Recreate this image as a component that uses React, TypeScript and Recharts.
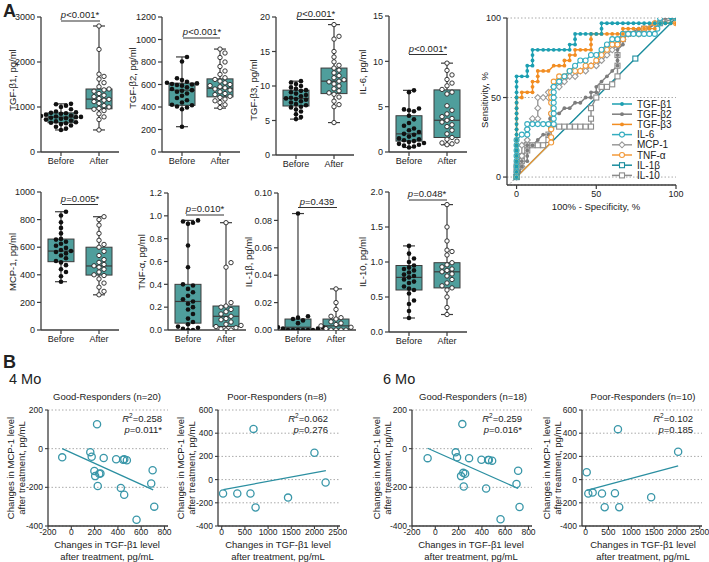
import React from 'react';
import { ComposedChart, XAxis, YAxis, Bar, Scatter, Line, ReferenceLine, CartesianGrid } from 'recharts';

const FONT = "'Liberation Sans', Arial, Helvetica, sans-serif";
const INK = '#222';
const AXIS = '#3c3c3c';
const BOX_FILL = '#4f9e9c';
const SC_COL = '#3a97a9';

// ---------------- Panel A: box plot values ----------------
const GROUP_LABELS = ['Before', 'After'];

const TGFB1_BEFORE = [490, 520, 560, 590, 620, 640, 650, 660, 680, 700, 720, 740, 750, 760, 775, 780, 790, 800, 810, 830, 850, 860, 870, 880, 900, 950, 1000, 1030, 1060, 1070];
const TGFB1_AFTER = [490, 720, 780, 850, 920, 950, 970, 1000, 1030, 1080, 1120, 1150, 1170, 1190, 1230, 1260, 1300, 1350, 1380, 1400, 1450, 1540, 1620, 1680, 1730, 2280, 2800];
const TGFB1_STATS_B = [490, 650, 775, 870, 1070];
const TGFB1_STATS_A = [490, 960, 1175, 1400, 2800];

const TGFB2_BEFORE = [225, 380, 395, 405, 415, 420, 440, 460, 480, 500, 520, 535, 545, 550, 560, 575, 590, 595, 600, 605, 610, 615, 625, 640, 655, 805, 845];
const TGFB2_AFTER = [395, 420, 440, 455, 470, 485, 495, 510, 520, 535, 550, 560, 570, 580, 590, 600, 615, 630, 645, 660, 690, 720, 760, 800, 840, 880, 915];
const TGFB2_STATS_B = [225, 415, 550, 612, 845];
const TGFB2_STATS_A = [390, 490, 567, 650, 915];

const TGFB3_BEFORE = [5.2, 5.5, 5.9, 6.3, 6.6, 6.9, 7.0, 7.2, 7.4, 7.6, 7.8, 8.0, 8.1, 8.2, 8.3, 8.5, 8.7, 8.9, 9.1, 9.3, 9.4, 9.6, 9.8, 10.0, 10.3, 10.5, 10.7];
const TGFB3_AFTER = [4.7, 7.0, 7.3, 7.8, 8.4, 8.8, 9.0, 9.3, 9.6, 10.0, 10.3, 10.6, 10.7, 10.9, 11.2, 11.5, 11.9, 12.3, 12.6, 13.0, 13.5, 14.2, 15.0, 16.8, 17.2, 18.9];
const TGFB3_STATS_B = [5.2, 7.1, 8.2, 9.4, 10.7];
const TGFB3_STATS_A = [4.7, 8.9, 10.7, 12.6, 18.9];

const IL6_BEFORE = [0.5, 0.6, 0.7, 0.8, 0.9, 1.0, 1.1, 1.2, 1.3, 1.4, 1.5, 1.7, 1.9, 2.0, 2.2, 2.4, 2.6, 2.9, 3.2, 3.6, 4.0, 4.5, 4.6, 4.7, 4.8, 6.6, 6.8];
const IL6_AFTER = [0.8, 0.9, 1.0, 1.2, 1.4, 1.6, 2.0, 2.4, 2.8, 3.0, 3.3, 3.5, 3.7, 3.9, 4.2, 4.6, 5.1, 6.4, 6.6, 6.9, 7.3, 7.6, 8.0, 8.5, 9.0, 9.8];
const IL6_STATS_B = [0.5, 1.2, 2.0, 4.0, 6.8];
const IL6_STATS_A = [0.8, 1.6, 3.5, 6.85, 9.8];

const MCP1_BEFORE = [350, 390, 420, 440, 470, 490, 500, 520, 540, 555, 565, 572, 580, 595, 610, 625, 640, 655, 660, 700, 740, 780, 830, 857];
const MCP1_AFTER = [255, 280, 310, 340, 370, 395, 400, 420, 440, 455, 465, 475, 490, 510, 540, 570, 600, 620, 650, 700, 760, 800, 821];
const MCP1_STATS_B = [350, 495, 572, 659, 857];
const MCP1_STATS_A = [255, 398, 464, 600, 821];

const TNFA_BEFORE = [0, 0, 0.01, 0.02, 0.03, 0.05, 0.07, 0.1, 0.14, 0.18, 0.2, 0.23, 0.25, 0.27, 0.3, 0.33, 0.36, 0.39, 0.4, 0.55, 0.74, 0.93, 0.94, 0.95, 0.96];
const TNFA_AFTER = [0, 0, 0.01, 0.02, 0.03, 0.04, 0.05, 0.07, 0.09, 0.1, 0.12, 0.14, 0.16, 0.18, 0.2, 0.21, 0.24, 0.55, 0.59, 0.94];
const TNFA_STATS_B = [0, 0.06, 0.25, 0.4, 0.96];
const TNFA_STATS_A = [0, 0.03, 0.12, 0.21, 0.94];

const IL1B_BEFORE = [0, 0, 0, 0, 0, 0, 0.001, 0.001, 0.002, 0.002, 0.003, 0.005, 0.007, 0.008, 0.009, 0.01, 0.085];
const IL1B_AFTER = [0, 0, 0, 0, 0.001, 0.002, 0.003, 0.004, 0.005, 0.006, 0.008, 0.009, 0.01, 0.015, 0.02, 0.03];
const IL1B_STATS_B = [0, 0.0005, 0.002, 0.008, 0.085];
const IL1B_STATS_A = [0, 0.0005, 0.003, 0.008, 0.03];

const IL10_BEFORE = [0.2, 0.3, 0.4, 0.45, 0.55, 0.6, 0.62, 0.65, 0.7, 0.72, 0.75, 0.78, 0.8, 0.82, 0.85, 0.88, 0.9, 0.92, 0.95, 1.0, 1.05, 1.12, 1.23];
const IL10_AFTER = [0.25, 0.35, 0.5, 0.6, 0.63, 0.66, 0.7, 0.75, 0.8, 0.83, 0.86, 0.88, 0.9, 0.93, 0.96, 0.99, 1.1, 1.15, 1.17, 1.3, 1.5, 1.82];
const IL10_STATS_B = [0.2, 0.6, 0.78, 0.95, 1.23];
const IL10_STATS_A = [0.25, 0.63, 0.86, 0.99, 1.82];

// ---------------- Panel A: ROC curves ----------------
type P = [number, number];
const ROC_TGFB1: P[] = [[0,0],[0,3.3],[0,6.7],[0,10],[0,13.3],[0,16.7],[0,20],[0,23.3],[0,26.7],[0,30],[0,33.3],[0,36.7],[0,40],[0,43.3],[0,46.7],[0,50],[0,53.3],[0,56.7],[0,60],[0,63.3],[3.3,63.3],[6.7,63.3],[6.7,66.7],[6.7,70],[10,70],[10,73.3],[10,76.7],[10,80],[13.3,80],[16.7,80],[20,80],[23.3,80],[26.7,80],[30,80],[33.3,80],[33.3,83.3],[36.7,83.3],[36.7,86.7],[36.7,90],[40,90],[43.3,90],[46.7,90],[50,90],[53.3,90],[53.3,93.3],[53.3,96.7],[56.7,96.7],[60,96.7],[63.3,96.7],[66.7,96.7],[70,96.7],[73.3,96.7],[76.7,96.7],[80,96.7],[83.3,96.7],[86.7,96.7],[90,96.7],[93.3,96.7],[96.7,96.7],[96.7,100],[100,100]];
const ROC_TGFB2: P[] = [[0,0],[1.7,3.3],[3.3,6.7],[3.3,10],[6.7,10],[6.7,13.3],[6.7,16.7],[6.7,20],[10,20],[13.3,23.3],[16.7,26.7],[20,26.7],[21,30],[21,33.3],[21,36.7],[21,40],[26.7,40],[30,43.3],[33.3,43.3],[36.7,46.7],[40,46.7],[43.3,50],[46.7,50],[46.7,53.3],[50,53.3],[50,56.7],[53.3,60],[56.7,63.3],[60,66.7],[63.3,70],[63.3,73.3],[63.3,76.7],[63.3,80],[66.7,83.3],[66.7,86.7],[66.7,90],[70,90],[76.7,93.3],[83.3,93.3],[86.7,96.7],[93.3,100],[100,100]];
const ROC_TGFB3: P[] = [[0,0],[0,3.3],[0,6.7],[0,10],[0,13.3],[0,16.7],[0,20],[0,23.3],[0,26.7],[0,30],[0,33.3],[0,36.7],[0,40],[0,43.3],[0,46.7],[0,50],[3.3,50],[3.3,53.3],[6.7,53.3],[10,53.3],[10,56.7],[10,60],[13.3,60],[13.3,63.3],[13.3,66.7],[16.7,66.7],[20,66.7],[23.3,70],[26.7,70],[30,70],[30,73.3],[33.3,73.3],[33.3,76.7],[36.7,76.7],[36.7,80],[40,80],[43.3,80],[46.7,80],[46.7,83.3],[46.7,86.7],[46.7,90],[50,90],[53.3,90],[56.7,90],[60,90],[63.3,90],[66.7,90],[66.7,93.3],[70,93.3],[73.3,93.3],[76.7,93.3],[80,93.3],[83.3,93.3],[86.7,93.3],[86.7,96.7],[90,96.7],[93.3,96.7],[96.7,96.7],[100,96.7],[100,100]];
const ROC_IL6: P[] = [[0,0],[0,3.3],[0,6.7],[0,10],[0,13.3],[0,16.7],[0,20],[0,23.3],[3.3,26.7],[6.7,26.7],[6.7,30],[6.7,33.3],[10,33.3],[13.3,33.3],[16.7,33.3],[20,33.3],[23.3,33.3],[23.3,36.7],[23.3,40],[23.3,43.3],[23.3,46.7],[23.3,50],[23.3,53.3],[23.3,56.7],[26.7,60],[30,63.3],[33.3,66.7],[36.7,70],[40,73.3],[43.3,73.3],[46.7,76.7],[50,76.7],[53.3,80],[56.7,83.3],[60,86.7],[63.3,86.7],[66.7,90],[70,90],[73.3,90],[76.7,90],[80,90],[83.3,90],[86.7,90],[88.3,93.3],[90,96.7],[90,100],[100,100]];
const ROC_MCP1: P[] = [[0,0],[3.3,6.7],[3.3,13.3],[3.3,20],[6.7,23.3],[6.7,30],[10,36.7],[13.3,36.7],[13.3,43.3],[13.3,50],[16.7,50],[20,50],[20,53.3],[23.3,56.7],[26.7,56.7],[30,60],[33.3,63.3],[36.7,63.3],[40,66.7],[43.3,66.7],[46.7,70],[50,70],[53.3,73.3],[56.7,76.7],[60,80],[63.3,83.3],[66.7,86.7],[66.7,90],[70,90],[76.7,90],[80,93.3],[86.7,96.7],[93.3,100],[100,100]];
const ROC_TNFA: P[] = [[0,0],[21.7,21.7],[21.7,25],[21.7,30],[21.7,33.3],[21.7,40],[21.7,46.7],[21.7,50],[21.7,53.3],[23.3,60],[26.7,63.3],[30,63.3],[33.3,66.7],[36.7,66.7],[40,66.7],[43.3,70],[46.7,70],[50,73.3],[53.3,76.7],[56.7,80],[60,83.3],[63.3,83.3],[66.7,86.7],[70,90],[76.7,90],[80,93.3],[86.7,96.7],[100,96.7],[100,100]];
const ROC_IL1B: P[] = [[0,0],[74.5,74.5],[100,100]];
const ROC_IL10: P[] = [[0,0],[0,3.3],[0,6.7],[3.3,10],[3.3,13.3],[6.7,16.7],[6.7,20],[10,20],[13.3,20],[16.7,20],[20,23.3],[20,26.7],[21.7,31.7],[26.7,31.7],[30,31.7],[33.3,31.7],[36.7,31.7],[40,31.7],[43.3,31.7],[46.7,31.7],[46.7,36.7],[46.7,43.3],[50,50],[53.3,56.7],[56.7,56.7],[60,58.3],[63.3,63.3],[63.3,70],[63.3,76.7],[63.3,83.3],[66.7,86.7],[70,90],[80,93.3],[90,96.7],[100,100]];

// ---------------- Panel B: scatter values ----------------
const GOOD4_X = [-78, 221, 163, 175, 278, 198, 205, 250, 227, 385, 445, 477, 425, 454, 698, 686, 712, 560, 240, 455];
const GOOD4_Y = [-45, 126, -18, -42, -48, -115, -142, -128, -193, -55, -57, -60, -203, -238, -112, -180, -300, -368, -130, -55];
const POOR4_X = [29, 336, 620, 686, 730, 1430, 1999, 2240];
const POOR4_Y = [-120, -120, -120, 437, -240, -155, 232, -25];
const GOOD6_X = [-66, 232, 175, 187, 290, 221, 256, 244, 396, 453, 488, 436, 711, 697, 723, 560, 240, 460];
const GOOD6_Y = [-49, 127, -19, -45, -49, -142, -130, -196, -57, -59, -62, -206, -114, -183, -302, -365, -125, -58];
const POOR6_X = [23, 58, 154, 358, 642, 708, 417, 736, 1436, 2027];
const POOR6_Y = [63, -120, -112, -120, -117, 435, -238, -238, -152, 240];
const REG_GOOD4: P[] = [[-78, 0], [703, -213]];
const REG_POOR4: P[] = [[36, -86], [2246, 77]];
const REG_GOOD6: P[] = [[-66, 2], [711, -206]];
const REG_POOR6: P[] = [[23, -92], [2027, 118]];

// ---------------- helpers ----------------
const tickStyle = { fontSize: 9, fill: INK, fontFamily: FONT };

function swarm(vals: number[], k: number, g: number, d = 5) {
  const sorted = [...vals].sort((a, b) => a - b);
  const placed: { x: number; y: number }[] = [];
  return sorted.map((v) => {
    const y = v * k;
    let dx = 0;
    for (let i = 0; i < 30; i++) {
      const cand = i === 0 ? 0 : (i % 2 ? 1 : -1) * Math.ceil(i / 2) * d;
      if (placed.every((p) => (p.x - cand) ** 2 + (p.y - y) ** 2 >= d * d * 0.85)) {
        dx = cand;
        break;
      }
    }
    placed.push({ x: dx, y });
    return { g, v, dx };
  });
}

function BoxShape(props: any) {
  const { x, y, width, height, payload } = props;
  const [mn, q1, med, q3, mx] = payload.s as number[];
  const k = height / (q3 - q1);
  const Y = (v: number) => y + height - (v - q1) * k;
  const cx = x + width / 2;
  const cap = 6;
  return (
    <g>
      <line x1={cx} x2={cx} y1={Y(mx)} y2={Y(q3)} stroke={AXIS} strokeWidth={1.2} />
      <line x1={cx} x2={cx} y1={Y(q1)} y2={Y(mn)} stroke={AXIS} strokeWidth={1.2} />
      <line x1={cx - cap} x2={cx + cap} y1={Y(mx)} y2={Y(mx)} stroke={AXIS} strokeWidth={1.2} />
      <line x1={cx - cap} x2={cx + cap} y1={Y(mn)} y2={Y(mn)} stroke={AXIS} strokeWidth={1.2} />
      <rect x={x} y={y} width={width} height={Math.max(height, 0.5)} fill={BOX_FILL} stroke={AXIS} strokeWidth={1} />
      <line x1={x} x2={x + width} y1={Y(med)} y2={Y(med)} stroke={AXIS} strokeWidth={1.2} />
    </g>
  );
}

const dotBefore = (p: any) => <circle cx={p.cx + p.payload.dx} cy={p.cy} r={2.3} fill="#111" />;
const dotAfter = (p: any) => <circle cx={p.cx + p.payload.dx} cy={p.cy} r={2.2} fill="#fff" stroke="#222" strokeWidth={0.9} />;

type BoxCfg = {
  x0: number; yTop: number; yBottom: number; max: number; ticks: number[]; fmt: (v: number) => string;
  before: number[]; after: number[]; sb: number[]; sa: number[];
};

function BoxPanel({ x0, yTop, yBottom, max, ticks, fmt, before, after, sb, sa }: BoxCfg) {
  const yw = 36, mt = 6, xh = 20, mr = 6, plotW = 78;
  const plotH = yBottom - yTop;
  const k = plotH / max;
  const data = [
    { g: 1, box: [sb[1], sb[3]], s: sb },
    { g: 2, box: [sa[1], sa[3]], s: sa },
  ];
  const ptsB = swarm(before, k, 1);
  const ptsA = swarm(after, k, 2);
  return (
    <div style={{ position: 'absolute', left: x0 - yw, top: yTop - mt }}>
      <ComposedChart width={yw + plotW + mr} height={mt + plotH + xh} data={data} margin={{ top: mt, right: mr, left: 0, bottom: 0 }}>
        <XAxis type="number" dataKey="g" domain={[0.474, 2.526]} ticks={[1, 2]} interval={0} allowDataOverflow
          tickFormatter={(v: number) => GROUP_LABELS[v - 1]} height={xh} tick={tickStyle}
          axisLine={{ stroke: AXIS, strokeWidth: 1.3 }} tickLine={{ stroke: AXIS, strokeWidth: 1.2 }} tickSize={4} />
        <YAxis type="number" dataKey="v" domain={[0, max]} ticks={ticks} interval={0} allowDataOverflow
          tickFormatter={fmt} width={yw} tick={tickStyle}
          axisLine={{ stroke: AXIS, strokeWidth: 1.3 }} tickLine={{ stroke: AXIS, strokeWidth: 1.2 }} tickSize={4} />
        <Bar dataKey="box" barSize={26} shape={BoxShape} isAnimationActive={false} />
        <Scatter data={ptsB} dataKey="v" shape={dotBefore} isAnimationActive={false} />
        <Scatter data={ptsA} dataKey="v" shape={dotAfter} isAnimationActive={false} />
      </ComposedChart>
    </div>
  );
}

const fmt0 = (v: number) => String(v);
const fmt1 = (v: number) => v.toFixed(1);
const fmt2 = (v: number) => v.toFixed(2);

const BOXES: BoxCfg[] = [
  { x0: 41, yTop: 17, yBottom: 152, max: 3000, ticks: [0, 1000, 2000, 3000], fmt: fmt0, before: TGFB1_BEFORE, after: TGFB1_AFTER, sb: TGFB1_STATS_B, sa: TGFB1_STATS_A },
  { x0: 162, yTop: 17, yBottom: 152, max: 1200, ticks: [0, 200, 400, 600, 800, 1000, 1200], fmt: fmt0, before: TGFB2_BEFORE, after: TGFB2_AFTER, sb: TGFB2_STATS_B, sa: TGFB2_STATS_A },
  { x0: 276, yTop: 17, yBottom: 155, max: 20, ticks: [0, 5, 10, 15, 20], fmt: fmt0, before: TGFB3_BEFORE, after: TGFB3_AFTER, sb: TGFB3_STATS_B, sa: TGFB3_STATS_A },
  { x0: 389, yTop: 16, yBottom: 152, max: 15, ticks: [0, 5, 10, 15], fmt: fmt0, before: IL6_BEFORE, after: IL6_AFTER, sb: IL6_STATS_B, sa: IL6_STATS_A },
  { x0: 41, yTop: 192, yBottom: 330, max: 1000, ticks: [0, 200, 400, 600, 800, 1000], fmt: fmt0, before: MCP1_BEFORE, after: MCP1_AFTER, sb: MCP1_STATS_B, sa: MCP1_STATS_A },
  { x0: 168, yTop: 193, yBottom: 330, max: 1.2, ticks: [0, 0.2, 0.4, 0.6, 0.8, 1.0, 1.2], fmt: fmt1, before: TNFA_BEFORE, after: TNFA_AFTER, sb: TNFA_STATS_B, sa: TNFA_STATS_A },
  { x0: 278, yTop: 193, yBottom: 330, max: 0.1, ticks: [0, 0.02, 0.04, 0.06, 0.08, 0.1], fmt: fmt2, before: IL1B_BEFORE, after: IL1B_AFTER, sb: IL1B_STATS_B, sa: IL1B_STATS_A },
  { x0: 389, yTop: 192, yBottom: 332, max: 2, ticks: [0, 0.5, 1.0, 1.5, 2.0], fmt: fmt1, before: IL10_BEFORE, after: IL10_AFTER, sb: IL10_STATS_B, sa: IL10_STATS_A },
];

// ---------------- ROC ----------------
type Kind = 'fill' | 'circle' | 'diamond' | 'square';
const ROC_SERIES: { name: string; pts: P[]; color: string; kind: Kind }[] = [
  { name: 'IL-10', pts: ROC_IL10, color: '#8c8c8c', kind: 'square' },
  { name: 'MCP-1', pts: ROC_MCP1, color: '#9a9a9a', kind: 'diamond' },
  { name: 'TGF-β2', pts: ROC_TGFB2, color: '#7d7d7d', kind: 'fill' },
  { name: 'IL-1β', pts: ROC_IL1B, color: '#1b8d9e', kind: 'square' },
  { name: 'TNF-α', pts: ROC_TNFA, color: '#f39a3a', kind: 'circle' },
  { name: 'IL-6', pts: ROC_IL6, color: '#35adc0', kind: 'circle' },
  { name: 'TGF-β3', pts: ROC_TGFB3, color: '#f28d22', kind: 'fill' },
  { name: 'TGF-β1', pts: ROC_TGFB1, color: '#1c9fb1', kind: 'fill' },
];
const LEGEND_ORDER = ['TGF-β1', 'TGF-β2', 'TGF-β3', 'IL-6', 'MCP-1', 'TNF-α', 'IL-1β', 'IL-10'];

function Marker({ cx, cy, color, kind }: { cx: number; cy: number; color: string; kind: Kind }) {
  if (kind === 'fill') return <circle cx={cx} cy={cy} r={1.9} fill={color} />;
  if (kind === 'circle') return <circle cx={cx} cy={cy} r={2.5} fill="#fff" stroke={color} strokeWidth={1.1} />;
  if (kind === 'diamond') return <path d={`M${cx},${cy - 3}L${cx + 3},${cy}L${cx},${cy + 3}L${cx - 3},${cy}Z`} fill="#fff" stroke={color} strokeWidth={1.1} />;
  return <rect x={cx - 2.5} y={cy - 2.5} width={5} height={5} fill="#fff" stroke={color} strokeWidth={1.1} />;
}

function RocPanel() {
  const x0 = 507, yTop = 18, yBottom = 185, plotW = 169;
  const yw = 26, mt = 6, xh = 18, mr = 12;
  return (
    <div style={{ position: 'absolute', left: x0 - yw, top: yTop - mt }}>
      <ComposedChart width={yw + plotW + mr} height={mt + (yBottom - yTop) + xh} margin={{ top: mt, right: mr, left: 0, bottom: 0 }}>
        <CartesianGrid vertical={false} stroke="#aaa" strokeDasharray="1.5 2" />
        <XAxis type="number" dataKey="x" domain={[-6, 100]} ticks={[0, 50, 100]} interval={0} allowDataOverflow height={xh}
          tick={tickStyle} axisLine={{ stroke: AXIS, strokeWidth: 1.3 }} tickLine={{ stroke: AXIS, strokeWidth: 1.2 }} tickSize={4} />
        <YAxis type="number" dataKey="y" domain={[-5, 100]} ticks={[0, 50, 100]} interval={0} allowDataOverflow width={yw}
          tick={tickStyle} axisLine={{ stroke: AXIS, strokeWidth: 1.3 }} tickLine={{ stroke: AXIS, strokeWidth: 1.2 }} tickSize={4} />
        <ReferenceLine segment={[{ x: -4, y: -4 }, { x: 100, y: 100 }]} stroke="#888" strokeDasharray="1.5 2" ifOverflow="visible" />
        {ROC_SERIES.map((s) => (
          <Line key={s.name} data={s.pts.map(([x, y]) => ({ x, y }))} dataKey="y" type="linear" stroke={s.color} strokeWidth={1.4}
            isAnimationActive={false}
            dot={(p: any) => <Marker key={`${s.name}-${p.index}`} cx={p.cx} cy={p.cy} color={s.color} kind={s.kind} />} />
        ))}
      </ComposedChart>
    </div>
  );
}

// ---------------- Panel B scatter ----------------
type ScCfg = { x0: number; plotW: number; xDomain: [number, number]; xTicks: number[]; yDomain: [number, number]; yTicks: number[]; xs: number[]; ys: number[]; reg: P[] };

const SCATTERS: ScCfg[] = [
  { x0: 48, plotW: 120, xDomain: [-200, 830], xTicks: [-200, 0, 200, 400, 600, 800], yDomain: [-400, 200], yTicks: [-400, -200, 0, 200], xs: GOOD4_X, ys: GOOD4_Y, reg: REG_GOOD4 },
  { x0: 218, plotW: 122, xDomain: [-80, 2550], xTicks: [0, 500, 1000, 1500, 2000, 2500], yDomain: [-400, 600], yTicks: [-400, -200, 0, 200, 400, 600], xs: POOR4_X, ys: POOR4_Y, reg: REG_POOR4 },
  { x0: 412, plotW: 120, xDomain: [-200, 830], xTicks: [-200, 0, 200, 400, 600, 800], yDomain: [-400, 200], yTicks: [-400, -200, 0, 200], xs: GOOD6_X, ys: GOOD6_Y, reg: REG_GOOD6 },
  { x0: 582, plotW: 120, xDomain: [-80, 2550], xTicks: [0, 500, 1000, 1500, 2000, 2500], yDomain: [-400, 600], yTicks: [-400, -200, 0, 200, 400, 600], xs: POOR6_X, ys: POOR6_Y, reg: REG_POOR6 },
];

const scTick = { fontSize: 8.5, fill: INK, fontFamily: FONT };
const scDot = (p: any) => <circle cx={p.cx} cy={p.cy} r={3.6} fill="none" stroke={SC_COL} strokeWidth={1.3} />;

function ScatterPanel({ x0, plotW, xDomain, xTicks, yDomain, yTicks, xs, ys, reg }: ScCfg) {
  const yTop = 410, yBottom = 526;
  const yw = 30, mt = 5, xh = 14, mr = 7;
  const pts = xs.map((x, i) => ({ x, y: ys[i] }));
  return (
    <div style={{ position: 'absolute', left: x0 - yw, top: yTop - mt }}>
      <ComposedChart width={yw + plotW + mr} height={mt + (yBottom - yTop) + xh} margin={{ top: mt, right: mr, left: 0, bottom: 0 }}>
        <CartesianGrid vertical={false} stroke="#aaa" strokeDasharray="1.5 2" />
        <XAxis type="number" dataKey="x" domain={xDomain} ticks={xTicks} interval={0} allowDataOverflow height={xh}
          tick={scTick} tickMargin={0} axisLine={{ stroke: AXIS, strokeWidth: 1.3 }} tickLine={{ stroke: AXIS, strokeWidth: 1.1 }} tickSize={3} />
        <YAxis type="number" dataKey="y" domain={yDomain} ticks={yTicks} interval={0} allowDataOverflow width={yw}
          tick={scTick} axisLine={{ stroke: AXIS, strokeWidth: 1.3 }} tickLine={{ stroke: AXIS, strokeWidth: 1.1 }} tickSize={3} />
        <ReferenceLine segment={[{ x: reg[0][0], y: reg[0][1] }, { x: reg[1][0], y: reg[1][1] }]} stroke="#2b8fa1" strokeWidth={1.3} />
        <Scatter data={pts} dataKey="y" shape={scDot} isAnimationActive={false} />
      </ComposedChart>
    </div>
  );
}

// ---------------- overlay text ----------------
const P_NOTES = [
  { t: '<0.001*', x: 80, y: 18, a: 61, b: 100, ly: 21 },
  { t: '<0.001*', x: 202, y: 35, a: 183, b: 220, ly: 38 },
  { t: '<0.001*', x: 316, y: 17, a: 297, b: 334, ly: 19.5 },
  { t: '<0.001*', x: 428, y: 52, a: 409, b: 447, ly: 54.5 },
  { t: '=0.005*', x: 80, y: 202, a: 62, b: 98, ly: 204.5 },
  { t: '=0.010*', x: 205, y: 212, a: 186, b: 224, ly: 215 },
  { t: '=0.439', x: 317, y: 205, a: 298, b: 337, ly: 207.5 },
  { t: '=0.048*', x: 427, y: 197, a: 409, b: 447, ly: 200 },
];

const Y_TITLES = [
  { t: 'TGF-β1, pg/ml', x: 12, y: 80 },
  { t: 'TGF-β2, pg/ml', x: 132, y: 78 },
  { t: 'TGF-β3, pg/ml', x: 253, y: 90 },
  { t: 'IL-6, pg/ml', x: 362, y: 72 },
  { t: 'MCP-1, pg/ml', x: 12, y: 262 },
  { t: 'TNF-α, pg/ml', x: 141, y: 262 },
  { t: 'IL-1β, pg/ml', x: 248, y: 262 },
  { t: 'IL-10, pg/ml', x: 362, y: 262 },
];

const SC_TEXT = [
  { title: 'Good-Responders (n=20)', tx: 107, r2: '0.258', p: '=0.011*', rx: 162, l1: 10, xc: 107 },
  { title: 'Poor-Responders (n=8)', tx: 277, r2: '0.062', p: '=0.276', rx: 328, l1: 180, xc: 278 },
  { title: 'Good-Responders (n=18)', tx: 473, r2: '0.259', p: '=0.016*', rx: 522, l1: 376, xc: 471 },
  { title: 'Poor-Responders (n=10)', tx: 643, r2: '0.102', p: '=0.185', rx: 693, l1: 546, xc: 643 },
];

function Overlay() {
  const ts = { fontFamily: FONT, fill: INK } as const;
  return (
    <svg width={709} height={562} style={{ position: 'absolute', left: 0, top: 0, pointerEvents: 'none' }}>
      <text x={3} y={17} fontSize={18} fontWeight="bold" {...ts}>A</text>
      <text x={3} y={368} fontSize={18} fontWeight="bold" {...ts}>B</text>
      <text x={9} y={384} fontSize={14.5} {...ts}>4 Mo</text>
      <text x={383} y={384} fontSize={14.5} {...ts}>6 Mo</text>
      {P_NOTES.map((n, i) => (
        <g key={i}>
          <text x={n.x} y={n.y} fontSize={9.5} textAnchor="middle" {...ts}>
            <tspan fontStyle="italic">p</tspan>{n.t}
          </text>
          <line x1={n.a} x2={n.b} y1={n.ly} y2={n.ly} stroke="#333" strokeWidth={1.1} />
        </g>
      ))}
      {Y_TITLES.map((t, i) => (
        <text key={i} x={t.x} y={t.y} fontSize={9.5} textAnchor="middle" dominantBaseline="central" transform={`rotate(-90 ${t.x} ${t.y})`} {...ts}>{t.t}</text>
      ))}
      <text x={484} y={100} fontSize={9.5} textAnchor="middle" dominantBaseline="central" transform="rotate(-90 484 100)" {...ts}>Sensitivity, %</text>
      <text x={596} y={210} fontSize={9.5} textAnchor="middle" {...ts}>100% - Specificity, %</text>
      {LEGEND_ORDER.map((name, i) => {
        const s = ROC_SERIES.find((r) => r.name === name)!;
        const y = 104 + i * 10.2;
        return (
          <g key={name}>
            <line x1={612} x2={632} y1={y} y2={y} stroke={s.color} strokeWidth={1.5} />
            <Marker cx={622} cy={y} color={s.color} kind={s.kind} />
            <text x={637} y={y + 3.5} fontSize={10} {...ts}>{name}</text>
          </g>
        );
      })}
      {SC_TEXT.map((s, i) => (
        <g key={i}>
          <text x={s.tx} y={400} fontSize={9.5} textAnchor="middle" {...ts}>{s.title}</text>
          <text x={s.rx} y={422} fontSize={9.5} textAnchor="end" {...ts}>
            <tspan fontStyle="italic">R</tspan><tspan fontSize={6.5} dy={-4}>2</tspan><tspan dy={4}>={s.r2}</tspan>
          </text>
          <text x={s.rx} y={433} fontSize={9.5} textAnchor="end" {...ts}>
            <tspan fontStyle="italic">p</tspan>{s.p}
          </text>
          <text x={s.l1} y={468} fontSize={9.5} textAnchor="middle" dominantBaseline="central" transform={`rotate(-90 ${s.l1} 468)`} {...ts}>Changes in MCP-1 level</text>
          <text x={s.l1 + 11} y={468} fontSize={9.5} textAnchor="middle" dominantBaseline="central" transform={`rotate(-90 ${s.l1 + 11} 468)`} {...ts}>after treatment, pg/mL</text>
          <text x={s.xc} y={548} fontSize={9.5} textAnchor="middle" {...ts}>Changes in TGF-β1 level</text>
          <text x={s.xc} y={559.5} fontSize={9.5} textAnchor="middle" {...ts}>after treatment, pg/mL</text>
        </g>
      ))}
    </svg>
  );
}

export default function App() {
  return (
    <div style={{ position: 'absolute', left: 0, top: 0, width: 709, height: 562, background: '#fff', fontFamily: FONT, overflow: 'hidden' }}>
      {BOXES.map((b, i) => <BoxPanel key={i} {...b} />)}
      <RocPanel />
      {SCATTERS.map((s, i) => <ScatterPanel key={i} {...s} />)}
      <Overlay />
    </div>
  );
}
